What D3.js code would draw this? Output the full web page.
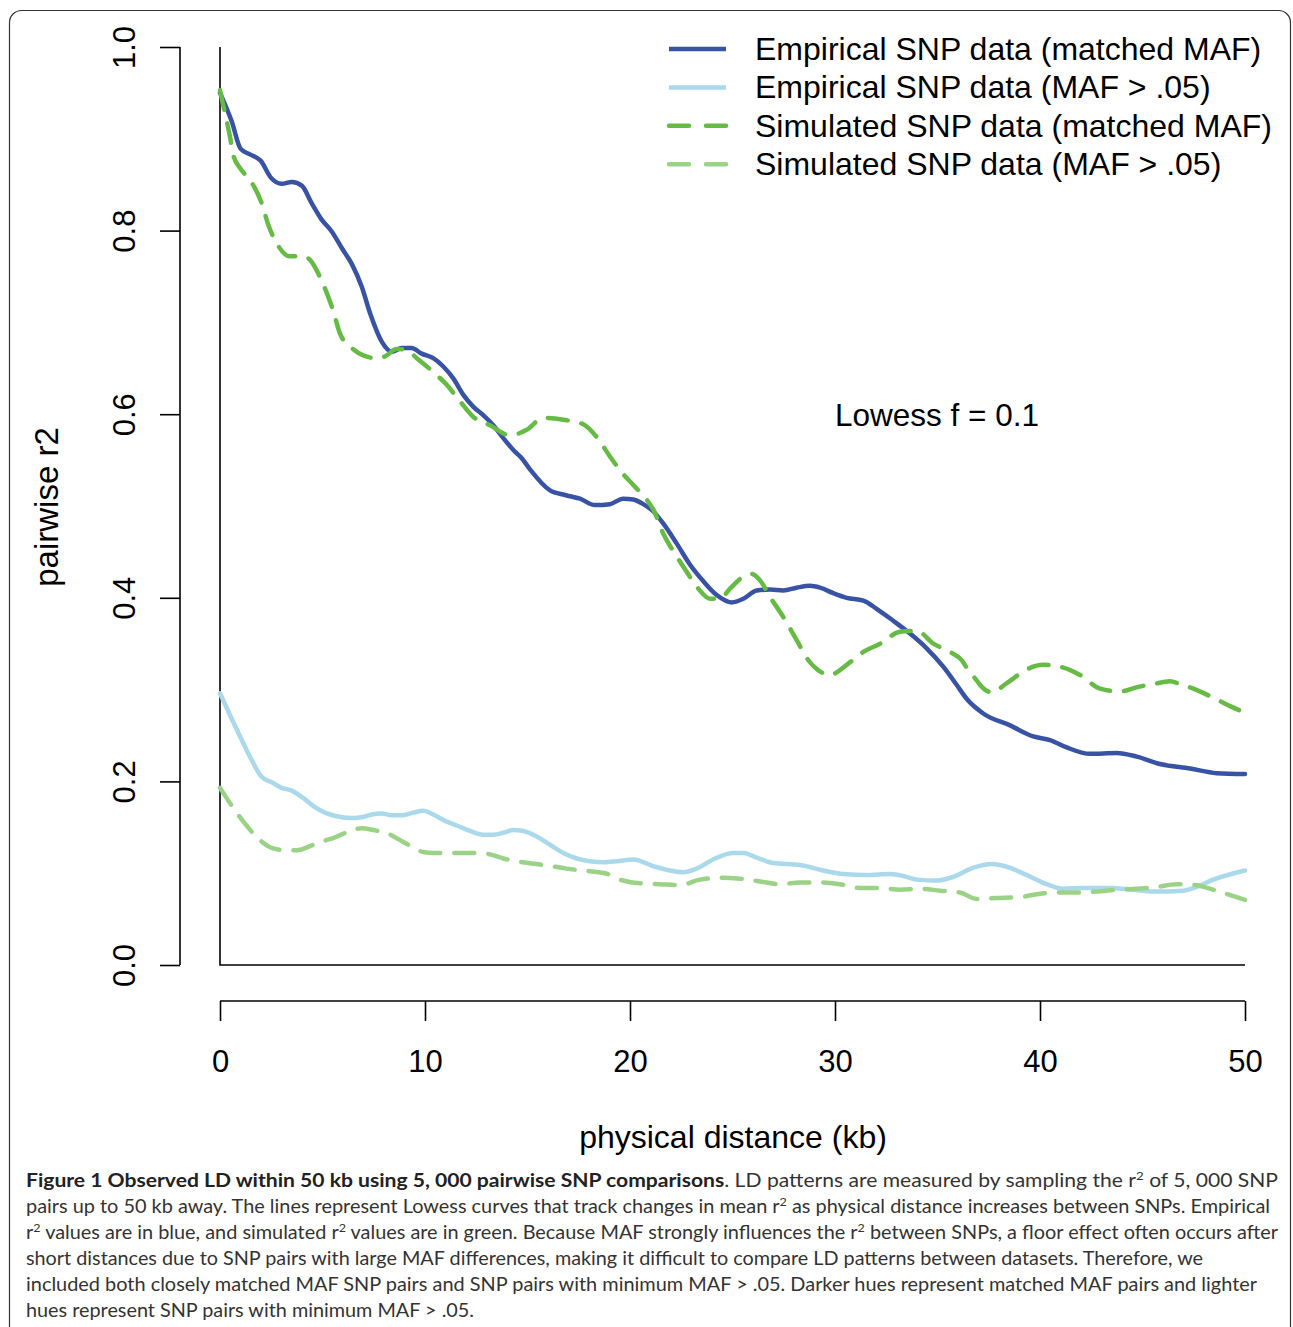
<!DOCTYPE html>
<html>
<head>
<meta charset="utf-8">
<script src="https://cdn.jsdelivr.net/npm/d3@7"></script>
<style>
  body { margin: 0; background: #fff; }
  svg text { font-family: "Liberation Sans", Arial, sans-serif; fill: #000; }
  svg text.caption { font-family: Lato, "Open Sans", sans-serif; font-size: 19px; fill: #333; }
</style>
</head>
<body>
<div id="chart"></div>
<script>
// Lowess curves: [kb, mean r2]
const empMatched = [
  [0,0.950],[0.57,0.919],[1.01,0.889],[1.46,0.883],[1.99,0.876],[2.47,0.858],[3.01,0.851],[3.5,0.853],
  [3.99,0.849],[4.47,0.830],[4.96,0.812],[5.45,0.799],[5.94,0.781],[6.42,0.764],[6.91,0.739],[7.35,0.708],
  [7.89,0.679],[8.38,0.668],[8.86,0.672],[9.35,0.672],[9.84,0.666],[10.4,0.661],[10.89,0.652],[11.38,0.639],
  [11.87,0.621],[12.36,0.608],[12.84,0.599],[13.33,0.588],[13.82,0.574],[14.31,0.561],[14.72,0.552],[15.12,0.540],
  [16.1,0.517],[16.83,0.512],[17.56,0.508],[18.29,0.501],[19.02,0.502],[19.67,0.508],[20.15,0.507],[20.65,0.502],
  [21.14,0.494],[21.62,0.481],[22.28,0.459],[22.93,0.436],[23.58,0.418],[24.23,0.403],[24.96,0.395],[25.53,0.399],
  [26.18,0.408],[26.83,0.409],[27.48,0.408],[28.13,0.411],[28.78,0.413],[29.27,0.411],[29.92,0.405],[30.57,0.400],
  [31.38,0.397],[32.03,0.388],[32.84,0.375],[33.66,0.361],[34.47,0.345],[35.28,0.325],[35.94,0.305],[36.42,0.290],
  [37.23,0.274],[38.54,0.261],[39.67,0.249],[40.49,0.245],[41.3,0.237],[42.44,0.230],[43.74,0.231],[44.72,0.227],
  [45.85,0.219],[47.32,0.214],[48.62,0.209],[50,0.208]
];
const empMaf05 = [
  [0,0.296],[0.49,0.272],[0.98,0.249],[1.46,0.227],[2.03,0.205],[2.52,0.199],[3.01,0.193],[3.5,0.190],
  [4.06,0.182],[4.63,0.172],[5.12,0.166],[5.69,0.162],[6.34,0.160],[6.91,0.161],[7.4,0.164],[7.89,0.165],
  [8.38,0.163],[8.86,0.163],[9.43,0.166],[9.92,0.168],[10.4,0.164],[10.98,0.157],[11.55,0.152],[12.2,0.146],
  [12.84,0.142],[13.33,0.142],[13.82,0.144],[14.31,0.147],[14.8,0.146],[15.45,0.140],[16.1,0.131],[16.75,0.122],
  [17.4,0.116],[18.05,0.113],[18.7,0.112],[19.35,0.113],[20.16,0.115],[21.22,0.107],[21.95,0.103],[22.6,0.101],
  [23.25,0.105],[24.15,0.116],[25.04,0.122],[25.53,0.122],[26.18,0.117],[26.99,0.111],[28.29,0.109],[29.43,0.103],
  [30.4,0.099],[31.55,0.098],[32.68,0.099],[33.33,0.097],[33.99,0.093],[34.96,0.092],[35.77,0.096],[36.75,0.106],
  [37.64,0.110],[38.38,0.107],[39.35,0.098],[40.33,0.088],[41.14,0.083],[42.11,0.084],[43.41,0.084],[44.55,0.082],
  [45.53,0.080],[46.99,0.081],[47.64,0.085],[48.45,0.093],[50,0.103]
];
const simMatched = [
  [0,0.953],[0.24,0.928],[0.49,0.902],[0.65,0.882],[0.98,0.868],[1.46,0.855],[1.71,0.846],[2.03,0.830],
  [2.36,0.806],[2.77,0.786],[3.41,0.772],[4.06,0.772],[4.47,0.766],[4.8,0.753],[5.12,0.737],[5.53,0.712],
  [5.85,0.688],[6.34,0.674],[6.99,0.664],[7.64,0.661],[8.05,0.663],[8.62,0.671],[9.11,0.670],[9.6,0.661],
  [10.4,0.646],[11.06,0.632],[11.71,0.614],[12.36,0.597],[13.17,0.588],[14.15,0.577],[14.96,0.583],[15.77,0.596],
  [16.75,0.594],[17.72,0.589],[18.38,0.575],[19.02,0.554],[19.51,0.539],[20.24,0.521],[20.81,0.507],[21.14,0.496],
  [21.62,0.470],[22.28,0.445],[22.77,0.428],[23.33,0.410],[23.9,0.399],[24.39,0.399],[24.88,0.410],[25.53,0.423],
  [25.94,0.426],[26.34,0.419],[26.83,0.401],[27.48,0.379],[28.13,0.354],[28.7,0.332],[29.19,0.321],[29.76,0.316],
  [30.57,0.327],[31.38,0.341],[32.2,0.350],[33.17,0.363],[33.99,0.364],[34.8,0.350],[35.61,0.341],[36.18,0.332],
  [36.42,0.324],[36.91,0.310],[37.16,0.303],[37.64,0.297],[38.38,0.307],[39.35,0.322],[40.16,0.327],[41.14,0.324],
  [41.95,0.316],[42.93,0.301],[43.9,0.298],[44.8,0.303],[45.53,0.306],[46.34,0.309],[46.83,0.306],[47.48,0.301],
  [48.46,0.291],[49.27,0.282],[50,0.275]
];
const simMaf05 = [
  [0,0.193],[0.65,0.171],[1.22,0.154],[1.95,0.136],[2.6,0.127],[3.25,0.125],[3.74,0.125],[4.55,0.131],
  [5.04,0.135],[5.61,0.139],[6.34,0.146],[6.91,0.149],[7.48,0.147],[8.21,0.143],[8.78,0.136],[9.27,0.130],
  [9.92,0.123],[10.4,0.122],[11.14,0.122],[11.87,0.122],[12.52,0.122],[13.09,0.121],[13.82,0.116],[14.47,0.113],
  [15.04,0.111],[15.77,0.109],[16.91,0.105],[17.64,0.103],[18.78,0.100],[19.51,0.093],[20.49,0.089],[21.46,0.088],
  [22.44,0.087],[23.41,0.093],[24.39,0.095],[25.37,0.094],[26.34,0.091],[27.32,0.088],[28.29,0.090],[29.27,0.090],
  [30.24,0.088],[31.22,0.084],[32.2,0.084],[33.17,0.082],[34.15,0.083],[35.12,0.081],[36.1,0.079],[36.91,0.072],
  [37.89,0.073],[39.02,0.074],[39.84,0.077],[40.81,0.079],[41.79,0.079],[42.76,0.080],[43.74,0.082],[44.72,0.083],
  [45.69,0.085],[46.67,0.088],[47.64,0.087],[48.45,0.082],[49.59,0.074],[50,0.071]
];

const xTicks = [0, 10, 20, 30, 40, 50];
const yTicks = [0, 0.2, 0.4, 0.6, 0.8, 1.0];
const legendLabels = [
  "Empirical SNP data (matched MAF)",
  "Empirical SNP data (MAF > .05)",
  "Simulated SNP data (matched MAF)",
  "Simulated SNP data (MAF > .05)"
];

const series = [
  {data: empMatched, color: "#3953a4", dash: null},
  {data: empMaf05,   color: "#a9d9ea", dash: null},
  {data: simMatched, color: "#66bb44", dash: "20,14"},
  {data: simMaf05,   color: "#9bd386", dash: "20,14"}
];

const W = 1293, H = 1327;
const svg = d3.select("#chart").append("svg")
    .attr("width", W)
    .attr("height", H);

// figure frame
svg.append("rect")
    .attr("x", 9.5).attr("y", 10.5)
    .attr("width", 1281).attr("height", 1340)
    .attr("rx", 12)
    .attr("fill", "none").attr("stroke", "#333").attr("stroke-width", 1.2);

const x = d3.scaleLinear().domain([0, 50]).range([220, 1245]);
const y = d3.scaleLinear().domain([0, 1]).range([965, 47]);

// R style detached axes
const yAxis = svg.append("g").attr("transform", "translate(180,0)")
    .call(d3.axisLeft(y).tickValues(yTicks).tickSize(20).tickFormat(d3.format(".1f")));
yAxis.select(".domain").attr("d", `M0,${y(0)}V${y(1)}`).attr("stroke-width", 1.6);
yAxis.selectAll(".tick line").attr("stroke-width", 1.6);
yAxis.selectAll(".tick text")
    .attr("x", null).attr("dy", null)
    .attr("transform", "translate(-45,0) rotate(-90)")
    .attr("text-anchor", "middle")
    .style("font-size", "31px")
    .style("font-family", "'Liberation Sans', Arial, sans-serif");

const xAxis = svg.append("g").attr("transform", "translate(0,1001)")
    .call(d3.axisBottom(x).tickValues(xTicks).tickSize(20));
xAxis.select(".domain").attr("d", `M${x(0)},0H${x(50)}`).attr("stroke-width", 1.6);
xAxis.selectAll(".tick line").attr("stroke-width", 1.6);
xAxis.selectAll(".tick text")
    .attr("y", 71).attr("dy", null)
    .style("font-size", "31px")
    .style("font-family", "'Liberation Sans', Arial, sans-serif");

// L-shaped box
svg.append("path")
    .attr("d", `M${x(0)},${y(1)}V${y(0)}H${x(50)}`)
    .attr("fill", "none").attr("stroke", "#000").attr("stroke-width", 1.6);

const line = d3.line()
    .x(d => x(d[0]))
    .y(d => y(d[1]))
    .curve(d3.curveMonotoneX);

series.forEach(s => {
  svg.append("path")
      .datum(s.data)
      .attr("fill", "none")
      .attr("stroke", s.color)
      .attr("stroke-width", 4.5)
      .attr("stroke-linejoin", "round")
      .attr("stroke-linecap", "round")
      .attr("stroke-dasharray", s.dash)
      .attr("d", line);
});

// axis titles
svg.append("text")
    .attr("transform", "translate(58,507) rotate(-90)")
    .attr("text-anchor", "middle")
    .style("font-size", "33px")
    .text("pairwise r2");

svg.append("text")
    .attr("x", 733).attr("y", 1148)
    .attr("text-anchor", "middle")
    .style("font-size", "32px")
    .text("physical distance (kb)");

svg.append("text")
    .attr("x", 835).attr("y", 426)
    .style("font-size", "31.5px")
    .text("Lowess f = 0.1");

// legend
const legend = svg.append("g");
legendLabels.forEach((lab, i) => {
  const ly = 49 + i * 38.4;
  legend.append("line")
      .attr("x1", 669).attr("x2", 726)
      .attr("y1", ly).attr("y2", ly)
      .attr("stroke", series[i].color)
      .attr("stroke-width", 4.5)
      .attr("stroke-dasharray", series[i].dash ? "20,17" : null)
      .attr("stroke-linecap", series[i].dash ? "round" : "butt");
  legend.append("text")
      .attr("x", 755).attr("y", ly + 11)
      .style("font-size", "32px")
      .text(lab);
});

// caption, one text element per line; b = bold, n = normal, s = superscript
const captionLines = [
  {w: 1252, parts: [["b", "Figure 1 Observed LD within 50 kb using 5, 000 pairwise SNP comparisons"], ["n", ". LD patterns are measured by sampling the r"], ["s", "2"], ["n", " of 5, 000 SNP"]]},
  {w: 1244, parts: [["n", "pairs up to 50 kb away. The lines represent Lowess curves that track changes in mean r"], ["s", "2"], ["n", " as physical distance increases between SNPs. Empirical"]]},
  {w: 1252, parts: [["n", "r"], ["s", "2"], ["n", " values are in blue, and simulated r"], ["s", "2"], ["n", " values are in green. Because MAF strongly influences the r"], ["s", "2"], ["n", " between SNPs, a floor effect often occurs after"]]},
  {w: 1177, parts: [["n", "short distances due to SNP pairs with large MAF differences, making it difficult to compare LD patterns between datasets. Therefore, we"]]},
  {w: 1231, parts: [["n", "included both closely matched MAF SNP pairs and SNP pairs with minimum MAF > .05. Darker hues represent matched MAF pairs and lighter"]]},
  {w: 448, parts: [["n", "hues represent SNP pairs with minimum MAF > .05."]]}
];

captionLines.forEach((ln, i) => {
  const t = svg.append("text")
      .attr("class", "caption")
      .attr("x", 26).attr("y", 1187 + i * 26)
      .attr("textLength", ln.w)
      .attr("lengthAdjust", "spacingAndGlyphs");
  ln.parts.forEach((p, j) => {
    const ts = t.append("tspan").text(p[1]);
    if (p[0] === "b") ts.style("font-weight", "bold").style("fill", "#222");
    if (p[0] === "s") ts.attr("dy", -7).style("font-size", "12px");
    if (p[0] === "n" && j > 0 && ln.parts[j - 1][0] === "s") ts.attr("dy", 7);
  });
});
</script>
</body>
</html>
